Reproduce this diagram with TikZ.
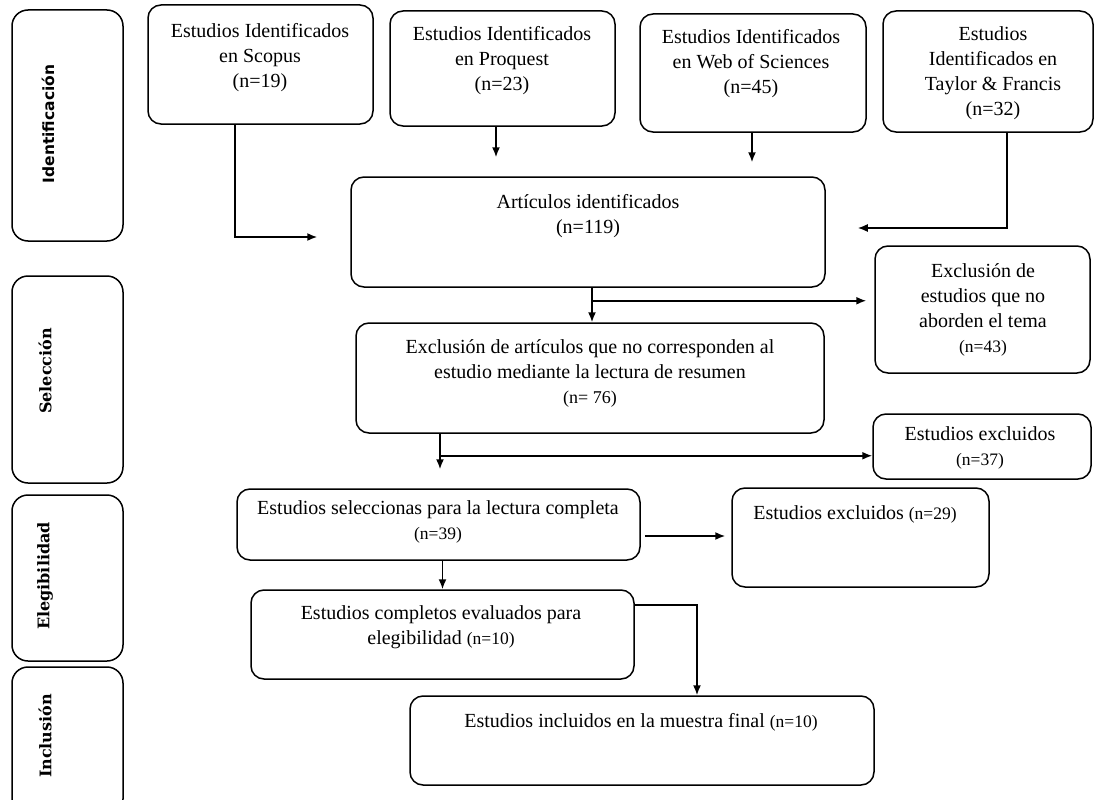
\documentclass[tikz,border=0pt]{standalone}
\usepackage{fontspec}
\setmainfont{Liberation Serif}
\newfontfamily\etapasans{DejaVu Sans}
\newfontfamily\etapaserif{DejaVu Serif}
\usetikzlibrary{arrows.meta}

\newcommand{\cuenta}[1]{{\fontsize{17.5}{19}\selectfont(n=#1)}}

\tikzset{
    caja/.style={draw, line width=1.5pt, rounded corners=13pt, inner sep=0pt},
    etapa/.style={caja, rounded corners=16pt, minimum width=111pt},
    texto/.style={align=center, inner sep=0pt, font=\fontsize{20}{25}\selectfont},
    rotulo/.style={rotate=90, inner sep=0pt, font=\bfseries\fontsize{15.5}{18}\selectfont},
    flecha/.style={line width=1.6pt, -{Latex[length=10pt, width=8pt]}},
}

\begin{document}
\begin{tikzpicture}[x=1pt, y=-1pt]
    \useasboundingbox (0, 0) rectangle (1095, 800);

    \node[etapa, minimum height=231pt] (idf) at (67.5, 125.5) {};
    \node[rotulo, font=\etapasans\bfseries\fontsize{15.5}{18}\selectfont] (idf-t) at (48, 124) {Identificación};
    \node[etapa, minimum height=207pt] (sel) at (67.5, 379.5) {};
    \node[rotulo, font=\etapaserif\bfseries\fontsize{16}{18}\selectfont] (sel-t) at (45, 371) {Selección};
    \node[etapa, minimum height=166pt] (eleg) at (67.5, 578) {};
    \node[rotulo, font=\etapaserif\bfseries\fontsize{16}{18}\selectfont] (eleg-t) at (45, 576) {Elegibilidad};
    \node[etapa, minimum height=148pt] (incl) at (67.5, 741) {};
    \node[rotulo, font=\etapaserif\bfseries\fontsize{16}{18}\selectfont] (incl-t) at (45, 736) {Inclusión};

    \node[caja, minimum width=225pt, minimum height=119pt] (scopus) at (260.5, 64.5) {};
    \node[texto] (scopus-t) at (260, 58) {Estudios Identificados\\en Scopus\\(n=19)};
    \node[caja, minimum width=225pt, minimum height=115pt] (proq) at (502.5, 68.5) {};
    \node[texto] (proq-t) at (502, 61) {Estudios Identificados\\en Proquest\\(n=23)};
    \node[caja, minimum width=226pt, minimum height=118pt] (wos) at (753, 73) {};
    \node[texto] (wos-t) at (751, 64) {Estudios Identificados\\en Web of Sciences\\(n=45)};
    \node[caja, minimum width=210pt, minimum height=121pt] (tay) at (988, 71.5) {};
    \node[texto] (tay-t) at (993, 73) {Estudios\\Identificados en\\Taylor \& Francis\\(n=32)};

    \node[caja, minimum width=474pt, minimum height=110pt] (arti) at (588, 232) {};
    \node[texto] (arti-t) at (588, 216) {Artículos identificados\\(n=119)};
    \node[caja, minimum width=215pt, minimum height=127pt] (excl1) at (982.5, 309.5) {};
    \node[texto] (excl1-t) at (983, 310) {Exclusión de\\estudios que no\\aborden el tema\\\cuenta{43}};
    \node[caja, minimum width=468pt, minimum height=110pt] (exart) at (590, 378) {};
    \node[texto] (exart-t) at (590, 373) {Exclusión de artículos que no corresponden al\\estudio mediante la lectura de resumen\\{\fontsize{18}{20}\selectfont(n= 76)}};
    \node[caja, minimum width=218pt, minimum height=65pt] (excl2) at (982, 446.5) {};
    \node[texto] (excl2-t) at (980, 448) {Estudios excluidos\\\cuenta{37}};

    \node[caja, minimum width=403pt, minimum height=71pt] (sel39) at (438.5, 524.5) {};
    \node[texto] (sel39-t) at (438, 522) {Estudios seleccionas para la lectura completa\\\cuenta{39}};
    \node[caja, minimum width=257pt, minimum height=99pt] (excl29) at (860.5, 537.5) {};
    \node[texto] (excl29-t) at (855, 514) {Estudios excluidos \cuenta{29}};
    \node[caja, minimum width=383pt, minimum height=89pt] (compl) at (442.5, 634.5) {};
    \node[texto] (compl-t) at (441, 627) {Estudios completos evaluados para\\elegibilidad \cuenta{10}};
    \node[caja, minimum width=464pt, minimum height=89pt] (final) at (642, 740.5) {};
    \node[texto] (final-t) at (641, 722) {Estudios incluidos en la muestra final \cuenta{10}};

    \coordinate (r1) at ([xshift=4pt, yshift=-13pt]arti.south);
    \coordinate (r2) at ([xshift=-150pt, yshift=-22pt]exart.south);
    \coordinate (r3) at ([xshift=4pt, yshift=-11.5pt]sel39.east);

    \draw[flecha, shorten >=33pt] ([xshift=-25.5pt]scopus.south) |- ([yshift=-5pt]arti.west);
    \draw[flecha, shorten >=19pt] ([xshift=-6.5pt]proq.south) -- ([xshift=-6.5pt]proq.south |- arti.north);
    \draw[flecha, shorten >=14pt] ([xshift=-1pt]wos.south) -- ([xshift=-1pt]wos.south |- arti.north);
    \draw[flecha, shorten >=32pt] ([xshift=19pt]tay.south) |- ([yshift=4pt]arti.east);

    \draw[flecha] ([xshift=4pt]arti.south) -- ([xshift=4pt]arti.south |- exart.north);
    \draw[flecha, shorten >=8pt] (r1) -- (r1 -| excl1.west);
    \draw[flecha, shorten >=19pt] ([xshift=-150pt]exart.south) -- ([xshift=-150pt]exart.south |- sel39.north);
    \draw[flecha] (r2) -- (r2 -| excl2.west);

    \draw[flecha, shorten >=6pt] (r3) -- (r3 -| excl29.west);
    \draw[flecha] (sel39.south -| compl.north) -- (compl.north);
    \draw[flecha] ([yshift=29.5pt]compl.east) -| ([xshift=55pt]final.north);
\end{tikzpicture}
\end{document}
